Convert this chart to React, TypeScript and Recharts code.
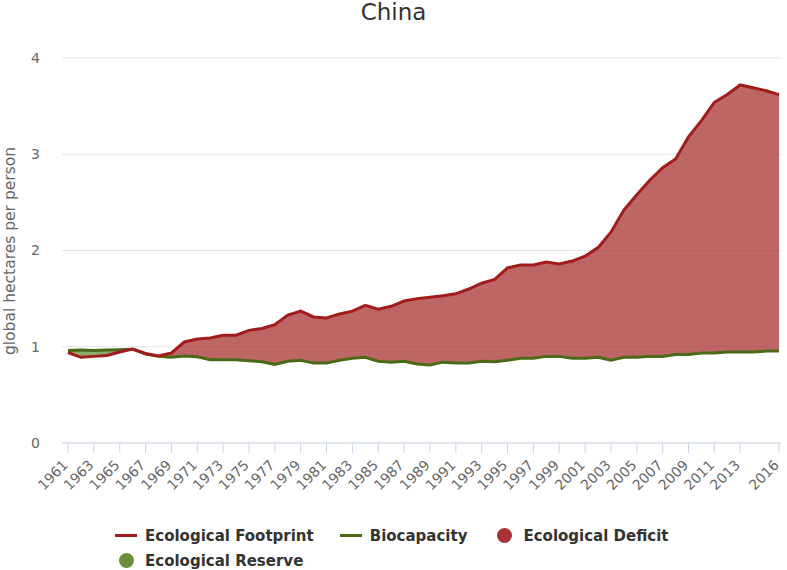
import React from "react";
import {
  ComposedChart,
  Area,
  Line,
  XAxis,
  YAxis,
  CartesianGrid,
} from "recharts";

const YEARS = [
  1961, 1962, 1963, 1964, 1965, 1966, 1967, 1968, 1969, 1970, 1971, 1972, 1973, 1974,
  1975, 1976, 1977, 1978, 1979, 1980, 1981, 1982, 1983, 1984, 1985, 1986, 1987, 1988,
  1989, 1990, 1991, 1992, 1993, 1994, 1995, 1996, 1997, 1998, 1999, 2000, 2001, 2002,
  2003, 2004, 2005, 2006, 2007, 2008, 2009, 2010, 2011, 2012, 2013, 2014, 2015, 2016,
];

const FOOTPRINT = [
  0.94, 0.89, 0.9, 0.91, 0.945, 0.975, 0.93, 0.905, 0.935, 1.05, 1.08, 1.09, 1.12, 1.12,
  1.17, 1.19, 1.23, 1.33, 1.37, 1.31, 1.3, 1.34, 1.37, 1.43, 1.39, 1.42, 1.475, 1.5,
  1.515, 1.53, 1.55, 1.6, 1.66, 1.7, 1.82, 1.85, 1.85, 1.88, 1.86, 1.89, 1.94, 2.03,
  2.19, 2.42, 2.58, 2.73, 2.86, 2.95, 3.18, 3.35, 3.54, 3.62, 3.72, 3.69, 3.66, 3.62,
];

const BIOCAPACITY = [
  0.96, 0.965, 0.96, 0.965, 0.97, 0.975, 0.925, 0.9, 0.89, 0.905, 0.895, 0.865, 0.865, 0.865,
  0.855, 0.845, 0.815, 0.85, 0.86, 0.83, 0.83, 0.86, 0.88, 0.89, 0.85, 0.84, 0.85, 0.82,
  0.81, 0.84, 0.83, 0.83, 0.85, 0.845, 0.86, 0.88, 0.88, 0.9, 0.9, 0.88, 0.88, 0.89,
  0.86, 0.89, 0.89, 0.9, 0.9, 0.92, 0.92, 0.935, 0.935, 0.945, 0.945, 0.945, 0.955, 0.955,
];

const X_TICKS = [
  1961, 1963, 1965, 1967, 1969, 1971, 1973, 1975, 1977, 1979, 1981, 1983, 1985, 1987,
  1989, 1991, 1993, 1995, 1997, 1999, 2001, 2003, 2005, 2007, 2009, 2011, 2013, 2016,
];
const Y_TICKS = [0, 1, 2, 3, 4];

const FONT = "'DejaVu Sans', Verdana, sans-serif";
const RED_LINE = "#a31c1c";
const RED_FILL = "#a83333";
const GREEN_LINE = "#4a6a18";
const GREEN_FILL = "#6b8e3a";

if (typeof document !== "undefined") {
  document.body.style.margin = "0";
  document.body.style.overflow = "hidden";
}

const data = YEARS.map((year, i) => {
  const fp = FOOTPRINT[i];
  const bc = BIOCAPACITY[i];
  const top = Math.max(fp, bc);
  return {
    year,
    footprint: fp,
    biocapacity: bc,
    deficit: [bc, top],
    reserve: [fp, top],
  };
});

function YearTick({ x, y, payload }: any) {
  const ax = x - 2;
  const ay = y + 8;
  return (
    <text
      x={ax}
      y={ay}
      transform={`rotate(-45 ${ax} ${ay})`}
      textAnchor="end"
      dominantBaseline="middle"
      fontSize={14}
      fontFamily={FONT}
      fill="#666"
    >
      {payload.value}
    </text>
  );
}

function LegendItem({ kind, color, label }: { kind: "line" | "dot"; color: string; label: string }) {
  return (
    <div style={{ display: "flex", alignItems: "center", marginRight: 26, height: 25 }}>
      <span style={{ width: 22, height: 14, display: "inline-flex", alignItems: "center", justifyContent: "center", marginRight: 8 }}>
        {kind === "line" ? (
          <span style={{ width: 22, height: 3, background: color, display: "inline-block" }} />
        ) : (
          <span style={{ width: 15, height: 15, borderRadius: 8, background: color, display: "inline-block" }} />
        )}
      </span>
      <span style={{ fontWeight: "bold", fontSize: 15, color: "#333" }}>{label}</span>
    </div>
  );
}

export default function App() {
  return (
    <div style={{ position: "absolute", left: 0, top: 0, width: 787, height: 570, fontFamily: FONT, background: "#fff", overflow: "hidden" }}>
      <div
        style={{
          position: "absolute",
          top: 0,
          left: 0,
          width: 787,
          textAlign: "center",
          fontSize: 23,
          color: "#333",
          lineHeight: "24px",
        }}
      >
        China
      </div>
      <div
        style={{
          position: "absolute",
          left: 10,
          top: 251,
          transform: "translate(-50%, -50%) rotate(-90deg)",
          whiteSpace: "nowrap",
          fontSize: 15.5,
          color: "#666",
        }}
      >
        global hectares per person
      </div>
      <div style={{ position: "absolute", left: 0, top: 0 }}>
        <ComposedChart width={787} height={510} data={data} margin={{ top: 58, right: 6, bottom: 0, left: 0 }}>
          <CartesianGrid vertical={false} stroke="#e6e6e6" />
          <XAxis
            dataKey="year"
            type="number"
            domain={[1961, 2016]}
            ticks={X_TICKS}
            interval={0}
            padding={{ left: 6, right: 2 }}
            height={67}
            tick={<YearTick />}
            tickSize={10}
            tickLine={{ stroke: "#ccd6eb" }}
            axisLine={{ stroke: "#ccd6eb" }}
          />
          <YAxis
            domain={[0, 4]}
            ticks={Y_TICKS}
            width={62}
            tickSize={0}
            tickMargin={22}
            axisLine={false}
            tickLine={false}
            tick={{ fontSize: 14, fill: "#666", fontFamily: FONT }}
          />
          <Area
            type="linear"
            dataKey="deficit"
            stroke="none"
            fill={RED_FILL}
            fillOpacity={0.75}
            isAnimationActive={false}
          />
          <Area
            type="linear"
            dataKey="reserve"
            stroke="none"
            fill={GREEN_FILL}
            fillOpacity={0.75}
            isAnimationActive={false}
          />
          <Line
            type="linear"
            dataKey="biocapacity"
            stroke={GREEN_LINE}
            strokeWidth={3}
            dot={false}
            isAnimationActive={false}
          />
          <Line
            type="linear"
            dataKey="footprint"
            stroke={RED_LINE}
            strokeWidth={3}
            dot={false}
            isAnimationActive={false}
          />
        </ComposedChart>
      </div>
      <div
        style={{
          position: "absolute",
          left: 115,
          top: 523,
          width: 600,
          display: "flex",
          flexWrap: "wrap",
        }}
      >
        <LegendItem kind="line" color={RED_LINE} label="Ecological Footprint" />
        <LegendItem kind="line" color={GREEN_LINE} label="Biocapacity" />
        <LegendItem kind="dot" color={RED_FILL} label="Ecological Deficit" />
        <LegendItem kind="dot" color={GREEN_FILL} label="Ecological Reserve" />
      </div>
    </div>
  );
}
